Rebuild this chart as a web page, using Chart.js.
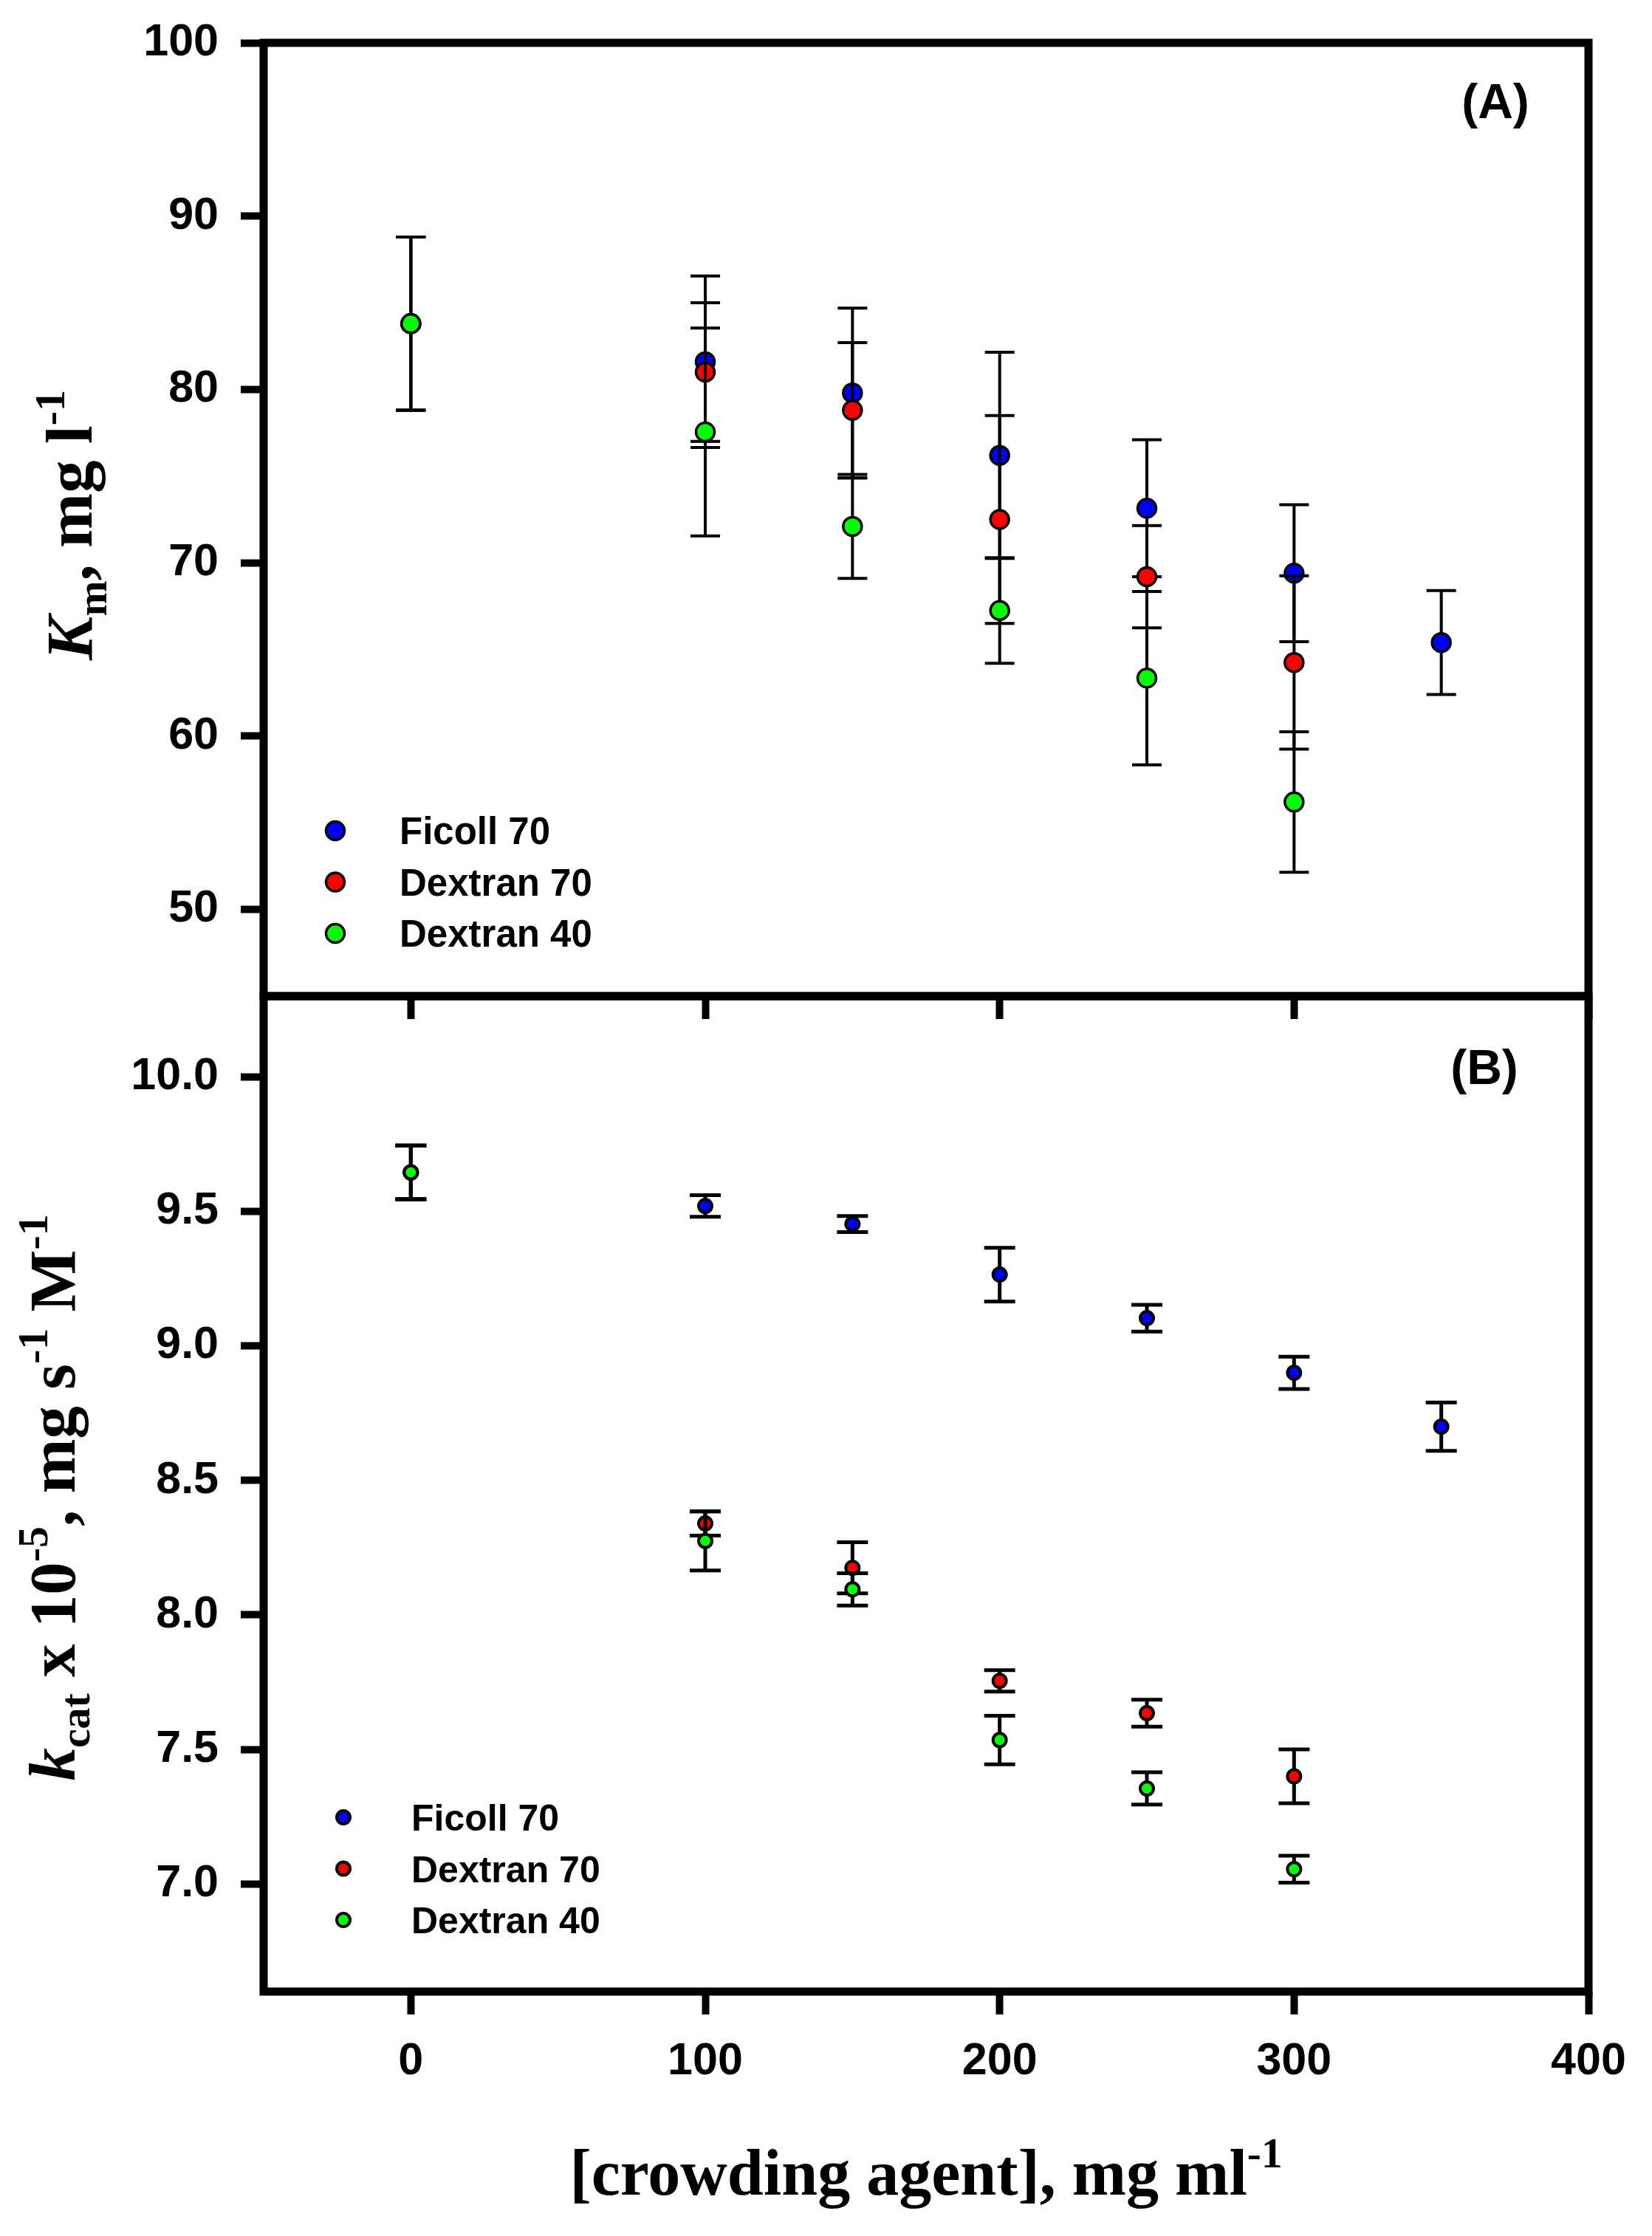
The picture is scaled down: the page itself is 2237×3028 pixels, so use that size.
<!DOCTYPE html>
<html>
<head>
<meta charset="utf-8">
<script src="https://cdn.jsdelivr.net/npm/chart.js@4"></script>
<style>
html, body { margin: 0; padding: 0; background: #fff; }
body { width: 2237px; height: 3028px; position: relative; overflow: hidden; }
canvas { position: absolute; left: 0; }
#chartA { top: 0; }
#chartB { top: 1300px; }
</style>
</head>
<body>
<canvas id="chartB" width="2237" height="1728"></canvas>
<canvas id="chartA" width="2237" height="1420"></canvas>
<script>
// crowding agent concentration, mg/ml
var concentration = [0, 100, 150, 200, 250, 300, 350];
var seriesNames = ['Ficoll 70', 'Dextran 70', 'Dextran 40'];
var seriesColors = ['#0000ff', '#ff0000', '#00ff00'];

// (A) Km, mg/l
var kmFicoll70 = [83.8, 81.6, 79.8, 76.2, 73.15, 69.4, 65.4];
var kmFicoll70Err = [5.0, 4.95, 4.9, 5.95, 3.95, 3.95, 3.0];
var kmDextran70 = [83.8, 81.0, 78.8, 72.5, 69.2, 64.25];
var kmDextran70Err = [5.0, 4.0, 3.9, 6.0, 2.95, 5.0];
var kmDextran40 = [83.8, 77.55, 72.1, 67.25, 63.35, 56.2];
var kmDextran40Err = [5.0, 6.0, 3.0, 3.05, 5.0, 4.05];

// (B) kcat x 10^-5
var kcatFicoll70 = [9.645, 9.52, 9.453, 9.265, 9.103, 8.90, 8.70];
var kcatFicoll70Err = [0.1, 0.04, 0.03, 0.1, 0.05, 0.06, 0.09];
var kcatDextran70 = [9.645, 8.34, 8.175, 7.755, 7.635, 7.40];
var kcatDextran70Err = [0.1, 0.045, 0.095, 0.04, 0.05, 0.1];
var kcatDextran40 = [9.645, 8.275, 8.095, 7.535, 7.355, 7.055];
var kcatDextran40Err = [0.1, 0.11, 0.06, 0.09, 0.06, 0.05];

var xTicks = [0, 100, 200, 300, 400];
var kmTicks = [50, 60, 70, 80, 90, 100];
var kcatTicks = [7.0, 7.5, 8.0, 8.5, 9.0, 9.5, 10.0];

var SANS = 'Arial, "Liberation Sans", sans-serif';
var SERIF = '"Times New Roman", "Liberation Serif", serif';

function points(ys) {
    return ys.map(function (y, i) { return { x: concentration[i], y: y }; });
}

function drawRich(ctx, runs, size, x, y, angle) {
    ctx.save();
    ctx.translate(x, y);
    ctx.rotate(angle);
    var fontOf = function (r) {
        var s = r.pos ? size * 0.65 : size;
        return (r.italic ? 'italic ' : '') + 'bold ' + s + 'px ' + SERIF;
    };
    var total = 0;
    runs.forEach(function (r) { ctx.font = fontOf(r); total += ctx.measureText(r.t).width; });
    var cx = -total / 2;
    ctx.fillStyle = '#000';
    ctx.textAlign = 'left';
    ctx.textBaseline = 'alphabetic';
    runs.forEach(function (r) {
        ctx.font = fontOf(r);
        var dy = r.pos === 'sub' ? size * 0.22 : (r.pos === 'sup' ? -size * 0.42 : 0);
        ctx.fillText(r.t, cx, dy);
        cx += ctx.measureText(r.t).width;
    });
    ctx.restore();
}

// error bars drawn just before each series' symbols
function errorBars(width, cap) {
    return {
        id: 'errorBars',
        beforeDatasetDraw: function (chart, args) {
            var ds = chart.data.datasets[args.index];
            var ctx = chart.ctx, xs = chart.scales.x, ys = chart.scales.y;
            ctx.save();
            ctx.strokeStyle = '#000';
            ctx.lineWidth = width;
            ds.data.forEach(function (p, i) {
                var px = xs.getPixelForValue(p.x);
                var top = ys.getPixelForValue(p.y + ds.errors[i]);
                var bot = ys.getPixelForValue(p.y - ds.errors[i]);
                ctx.beginPath();
                ctx.moveTo(px, top); ctx.lineTo(px, bot);
                ctx.moveTo(px - cap, top); ctx.lineTo(px + cap, top);
                ctx.moveTo(px - cap, bot); ctx.lineTo(px + cap, bot);
                ctx.stroke();
            });
            ctx.restore();
        }
    };
}

function decor(cfg) {
    return {
        id: 'decor',
        afterDraw: function (chart) {
            var ctx = chart.ctx, a = chart.chartArea;
            ctx.save();
            ctx.strokeStyle = '#000';
            ctx.lineWidth = 11;
            ctx.strokeRect(a.left, a.top, a.right - a.left, a.bottom - a.top);

            // legend
            chart.data.datasets.forEach(function (ds, i) {
                var y = cfg.legY + i * cfg.legDy;
                ctx.beginPath();
                ctx.arc(cfg.legX, y, ds.pointRadius, 0, Math.PI * 2);
                ctx.fillStyle = ds.backgroundColor;
                ctx.fill();
                ctx.lineWidth = ds.pointBorderWidth;
                ctx.strokeStyle = '#000';
                ctx.stroke();
                ctx.fillStyle = '#000';
                ctx.font = 'bold ' + cfg.legSize + 'px ' + SANS;
                ctx.textAlign = 'left';
                ctx.textBaseline = 'alphabetic';
                ctx.fillText(ds.label, cfg.legTextX, y + cfg.legSize * 0.36);
            });

            // panel letter
            ctx.font = 'bold 66px ' + SANS;
            ctx.textAlign = 'center';
            ctx.fillText(cfg.panel, cfg.panelX, cfg.panelY);
            ctx.restore();

            drawRich(ctx, cfg.yTitle, 89, cfg.yTitleX, cfg.yTitleY, -Math.PI / 2);
            if (cfg.xTitle) {
                drawRich(ctx, cfg.xTitle, 88, (a.left + a.right) / 2, cfg.xTitleY, 0);
            }
        }
    };
}

function makeDatasets(values, errs, radius, border) {
    return values.map(function (v, i) {
        return {
            label: seriesNames[i],
            data: points(v),
            errors: errs[i],
            order: 2 - i,
            backgroundColor: seriesColors[i],
            pointBackgroundColor: seriesColors[i],
            pointBorderColor: '#000',
            pointBorderWidth: border,
            pointRadius: radius,
            pointHoverRadius: radius,
            showLine: false
        };
    });
}

function tickFont() { return { family: SANS, size: 61, weight: 'bold' }; }

// keep the plot frame where the layout padding puts it
function noOverflow(s) {
    s.paddingTop = 0; s.paddingBottom = 0; s.paddingLeft = 0; s.paddingRight = 0;
}

function xScale(showLabels) {
    return {
        type: 'linear', min: -50, max: 400,
        afterBuildTicks: function (s) { s.ticks = xTicks.map(function (v) { return { value: v }; }); },
        afterFit: function (s) { s.height = showLabels ? 160 : 40; noOverflow(s); },
        border: { display: false },
        grid: { drawOnChartArea: false, drawTicks: true, tickLength: 31, tickWidth: 10, tickColor: '#000' },
        ticks: { display: showLabels, color: '#000', font: tickFont(), padding: 28, maxRotation: 0 }
    };
}

function yScale(min, max, ticks, fmt) {
    return {
        type: 'linear', min: min, max: max,
        afterBuildTicks: function (s) { s.ticks = ticks.map(function (v) { return { value: v }; }); },
        afterFit: function (s) { s.width = 357; noOverflow(s); },
        border: { display: false },
        grid: { drawOnChartArea: false, drawTicks: true, tickLength: 31, tickWidth: 10, tickColor: '#000' },
        ticks: { color: '#000', font: tickFont(), padding: 30, callback: fmt }
    };
}

new Chart(document.getElementById('chartA').getContext('2d'), {
    type: 'scatter',
    data: {
        datasets: makeDatasets([kmFicoll70, kmDextran70, kmDextran40],
            [kmFicoll70Err, kmDextran70Err, kmDextran40Err], 12.5, 3.5)
    },
    options: {
        responsive: false, animation: false, devicePixelRatio: 1,
        layout: { padding: { top: 58, right: 86, bottom: 31, left: 0 } },
        plugins: { legend: { display: false }, tooltip: { enabled: false } },
        scales: {
            x: xScale(false),
            y: yScale(45, 100, kmTicks, function (v) { return String(v); })
        }
    },
    plugins: [errorBars(4, 20), decor({
        legX: 454, legY: 1125, legDy: 69.5, legTextX: 541, legSize: 51,
        panel: '(A)', panelX: 2025, panelY: 160,
        yTitle: [{ t: 'K', italic: true }, { t: 'm', pos: 'sub' }, { t: ', mg l' }, { t: '-1', pos: 'sup' }],
        yTitleX: 124, yTitleY: 711
    })]
});

new Chart(document.getElementById('chartB').getContext('2d'), {
    type: 'scatter',
    data: {
        datasets: makeDatasets([kcatFicoll70, kcatDextran70, kcatDextran40],
            [kcatFicoll70Err, kcatDextran70Err, kcatDextran40Err], 9, 4)
    },
    options: {
        responsive: false, animation: false, devicePixelRatio: 1,
        layout: { padding: { top: 49, right: 86, bottom: 171, left: 0 } },
        plugins: { legend: { display: false }, tooltip: { enabled: false } },
        scales: {
            x: xScale(true),
            y: yScale(6.6, 10.3, kcatTicks, function (v) { return v.toFixed(1); })
        }
    },
    plugins: [errorBars(5, 21), decor({
        legX: 465, legY: 1161, legDy: 69.5, legTextX: 557, legSize: 50,
        panel: '(B)', panelX: 2010, panelY: 168,
        yTitle: [{ t: 'k', italic: true }, { t: 'cat', pos: 'sub' }, { t: ' x 10' }, { t: '-5', pos: 'sup' },
            { t: ', mg s' }, { t: '-1', pos: 'sup' }, { t: ' M' }, { t: '-1', pos: 'sup' }],
        yTitleX: 101, yTitleY: 728,
        xTitle: [{ t: '[crowding agent], mg ml' }, { t: '-1', pos: 'sup' }],
        xTitleY: 1672
    })]
});
</script>
</body>
</html>
